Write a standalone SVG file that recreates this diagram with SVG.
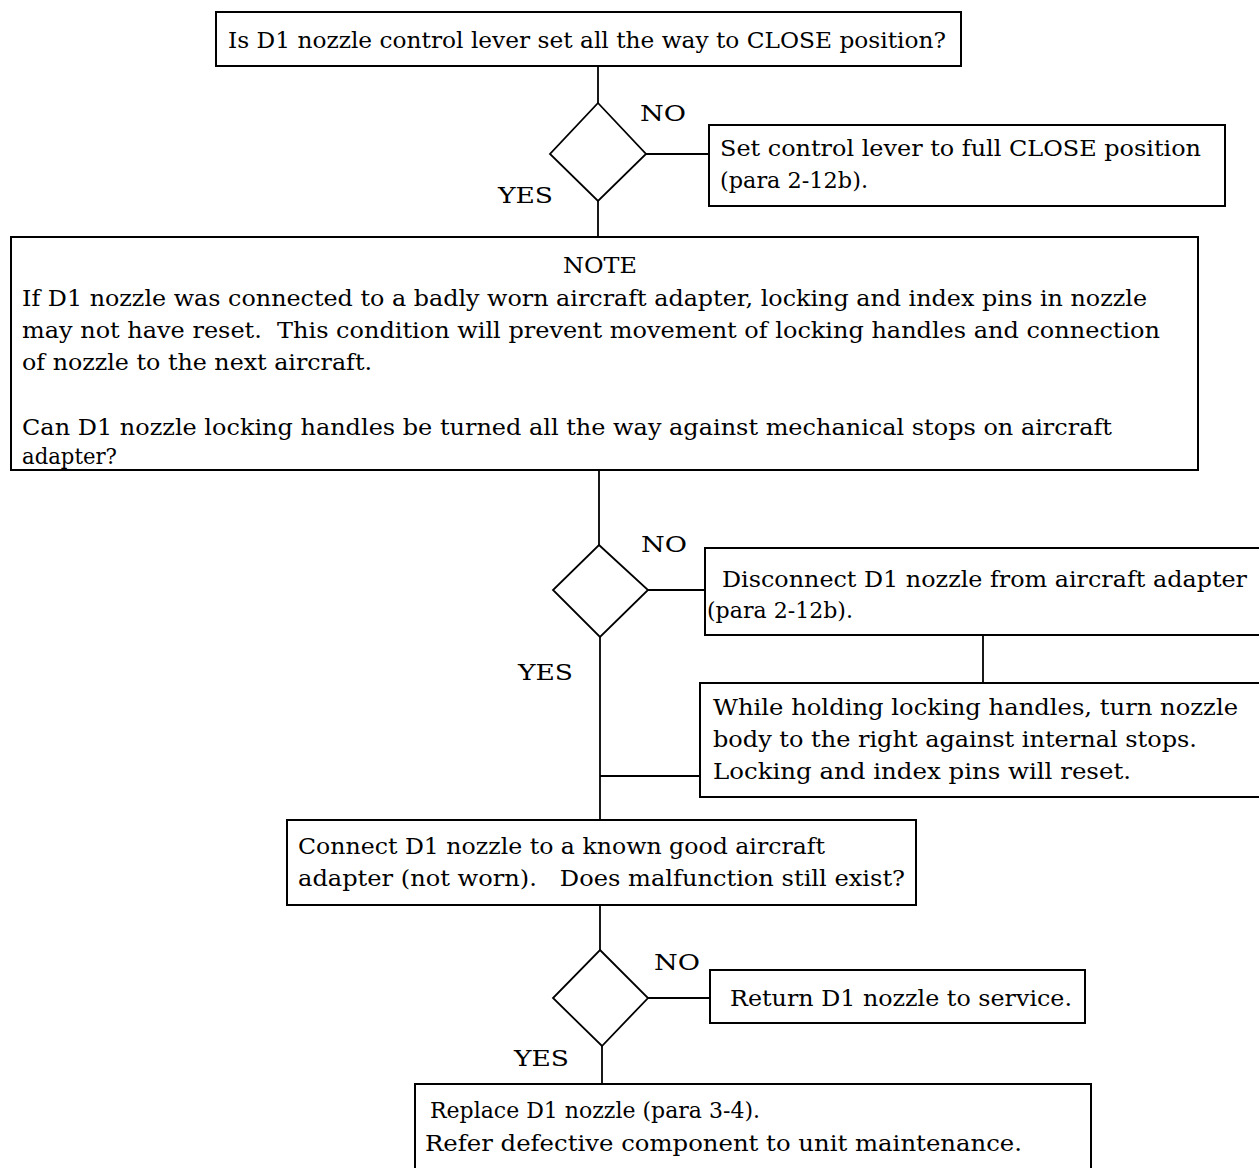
<svg xmlns="http://www.w3.org/2000/svg" width="1259" height="1168" viewBox="0 0 1259 1168">
<style>
.box{fill:#fff;stroke:#000;stroke-width:2}
.dia{fill:#fff;stroke:#000;stroke-width:1.8}
.ln{stroke:#000;stroke-width:1.8;fill:none}
text{font-family:"DejaVu Serif","Liberation Serif",serif;font-size:23px;fill:#000;white-space:pre}
.lbl{font-size:23px}
</style>
<rect width="1259" height="1168" fill="#fff"/>
<g id="connectors">
<line class="ln" x1="598" y1="66" x2="598" y2="103"/>
<line class="ln" x1="646" y1="154" x2="709" y2="154"/>
<line class="ln" x1="598" y1="201" x2="598" y2="237"/>
<line class="ln" x1="599" y1="470" x2="599" y2="545"/>
<line class="ln" x1="648" y1="590" x2="705" y2="590"/>
<line class="ln" x1="983" y1="635" x2="983" y2="683"/>
<line class="ln" x1="600" y1="637" x2="600" y2="820"/>
<line class="ln" x1="600" y1="776" x2="700" y2="776"/>
<line class="ln" x1="600" y1="905" x2="600" y2="950"/>
<line class="ln" x1="648" y1="998" x2="710" y2="998"/>
<line class="ln" x1="602" y1="1046" x2="602" y2="1084"/>
</g>
<g id="q1">
<rect class="box" x="216" y="12" width="745" height="54"/>
<text x="228" y="48" textLength="718" lengthAdjust="spacingAndGlyphs">Is D1 nozzle control lever set all the way to CLOSE position?</text>
</g>
<g id="d1">
<polygon class="dia" points="598,103 646,154 598,201 550,154"/>
<text class="lbl" x="640" y="121" textLength="46" lengthAdjust="spacingAndGlyphs">NO</text>
<text class="lbl" x="498" y="203" textLength="55" lengthAdjust="spacingAndGlyphs">YES</text>
</g>
<g id="set-lever">
<rect class="box" x="709" y="125" width="516" height="81"/>
<text x="720" y="156" textLength="481" lengthAdjust="spacingAndGlyphs">Set control lever to full CLOSE position</text>
<text x="720" y="188" textLength="148" lengthAdjust="spacingAndGlyphs">(para 2-12b).</text>
</g>
<g id="note">
<rect class="box" x="11" y="237" width="1187" height="233"/>
<text x="563" y="273" textLength="74" lengthAdjust="spacingAndGlyphs">NOTE</text>
<text x="22" y="306" textLength="1125" lengthAdjust="spacingAndGlyphs">If D1 nozzle was connected to a badly worn aircraft adapter, locking and index pins in nozzle</text>
<text x="22" y="338" textLength="1138" lengthAdjust="spacingAndGlyphs">may not have reset.  This condition will prevent movement of locking handles and connection</text>
<text x="22" y="370" textLength="350" lengthAdjust="spacingAndGlyphs">of nozzle to the next aircraft.</text>
<text x="22" y="435" textLength="1090" lengthAdjust="spacingAndGlyphs">Can D1 nozzle locking handles be turned all the way against mechanical stops on aircraft</text>
<text x="22" y="464" textLength="95" lengthAdjust="spacingAndGlyphs">adapter?</text>
</g>
<g id="d2">
<polygon class="dia" points="599,545 648,590 600,637 553,590"/>
<text class="lbl" x="641" y="552" textLength="46" lengthAdjust="spacingAndGlyphs">NO</text>
<text class="lbl" x="518" y="680" textLength="55" lengthAdjust="spacingAndGlyphs">YES</text>
</g>
<g id="disconnect">
<rect class="box" x="705" y="548" width="560" height="87"/>
<text x="722" y="587" textLength="525" lengthAdjust="spacingAndGlyphs">Disconnect D1 nozzle from aircraft adapter</text>
<text x="707" y="618" textLength="146" lengthAdjust="spacingAndGlyphs">(para 2-12b).</text>
</g>
<g id="turn-body">
<rect class="box" x="700" y="683" width="565" height="114"/>
<text x="713" y="715" textLength="525" lengthAdjust="spacingAndGlyphs">While holding locking handles, turn nozzle</text>
<text x="713" y="747" textLength="484" lengthAdjust="spacingAndGlyphs">body to the right against internal stops.</text>
<text x="713" y="779" textLength="418" lengthAdjust="spacingAndGlyphs">Locking and index pins will reset.</text>
</g>
<g id="connect-good">
<rect class="box" x="287" y="820" width="629" height="85"/>
<text x="298" y="854" textLength="527" lengthAdjust="spacingAndGlyphs">Connect D1 nozzle to a known good aircraft</text>
<text x="298" y="886" textLength="607" lengthAdjust="spacingAndGlyphs">adapter (not worn).   Does malfunction still exist?</text>
</g>
<g id="d3">
<polygon class="dia" points="600,950 648,998 602,1046 553,998"/>
<text class="lbl" x="654" y="970" textLength="46" lengthAdjust="spacingAndGlyphs">NO</text>
<text class="lbl" x="514" y="1066" textLength="55" lengthAdjust="spacingAndGlyphs">YES</text>
</g>
<g id="return-service">
<rect class="box" x="710" y="970" width="375" height="53"/>
<text x="730" y="1006" textLength="342" lengthAdjust="spacingAndGlyphs">Return D1 nozzle to service.</text>
</g>
<g id="replace">
<rect class="box" x="415" y="1084" width="676" height="90"/>
<text x="430" y="1118" textLength="330" lengthAdjust="spacingAndGlyphs">Replace D1 nozzle (para 3-4).</text>
<text x="425" y="1151" textLength="597" lengthAdjust="spacingAndGlyphs">Refer defective component to unit maintenance.</text>
</g>
</svg>
